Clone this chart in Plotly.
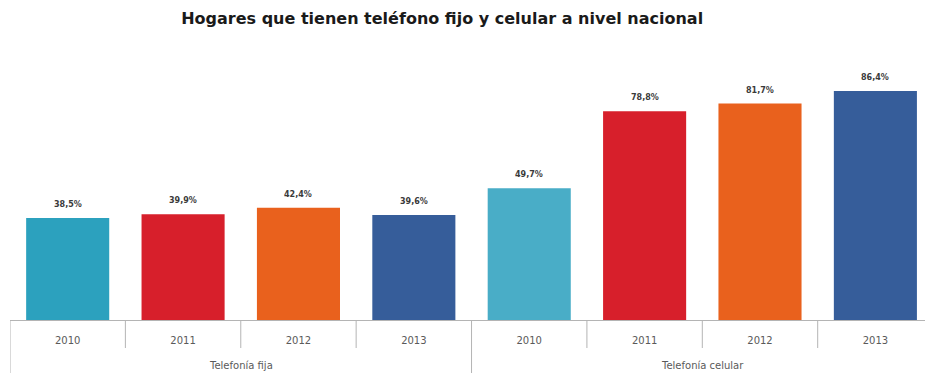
import plotly.graph_objects as go

# Households with fixed and mobile phone, national level (%)
group_names = ["Telefonía fija", "Telefonía celular"]
groups = ["Telefonía fija"] * 4 + ["Telefonía celular"] * 4
years = ["2010", "2011", "2012", "2013", "2010", "2011", "2012", "2013"]
values = [38.5, 39.9, 42.4, 39.6, 49.7, 78.8, 81.7, 86.4]
colors = ["#2ca1be", "#d71f2b", "#e9611d", "#365d9a",
          "#49adc7", "#d71f2b", "#e9611d", "#365d9a"]

positions = list(range(len(years)))
labels = [f"{v:.1f}%".replace(".", ",") for v in values]

fig = go.Figure(
    go.Bar(
        x=positions,
        y=values,
        marker=dict(color=colors, line=dict(width=0)),
        hovertext=[f"{g} {y}" for g, y in zip(groups, years)],
    )
)

# value labels above each bar
for xpos, v, lab in zip(positions, values, labels):
    fig.add_annotation(
        x=xpos, y=v, xref="x", yref="y",
        text=f"<b>{lab}</b>", showarrow=False,
        yanchor="bottom", yshift=7,
        font=dict(family="DejaVu Sans", size=8, color="#3a3a3a"),
    )

axis_grey = "#b4b4b4"
plot_h = 373 - 55 - 53  # height of plotting area in px

# short separators between years
for i in positions:
    if i % 4 == 0:
        continue
    fig.add_shape(
        type="line", xref="x", yref="paper",
        x0=i - 0.5, x1=i - 0.5, y0=0, y1=-28 / plot_h,
        line=dict(color=axis_grey, width=1),
    )

# long separators between the two groups
for i in [0, 4]:
    fig.add_shape(
        type="line", xref="x", yref="paper",
        x0=i - 0.5, x1=i - 0.5, y0=0, y1=-53 / plot_h,
        line=dict(color=axis_grey, width=1),
    )

# group labels under the year labels
for k, name in enumerate(group_names):
    fig.add_annotation(
        x=4 * k + 1.5, y=-45 / plot_h, xref="x", yref="paper",
        text=name, showarrow=False, yanchor="middle",
        font=dict(family="DejaVu Sans", size=10, color="#5a5a5a"),
    )

fig.update_layout(
    width=925,
    height=373,
    margin=dict(l=10, r=0, t=55, b=53),
    paper_bgcolor="white",
    plot_bgcolor="white",
    bargap=0.28,
    showlegend=False,
    title=dict(
        text="<b>Hogares que tienen teléfono fijo y celular a nivel nacional</b>",
        x=0.478,
        xanchor="center",
        y=0.95,
        yanchor="middle",
        font=dict(family="DejaVu Sans", size=16, color="#1a1a1a"),
    ),
)

fig.update_xaxes(
    range=[-0.5, 7.43],
    tickmode="array",
    tickvals=positions,
    ticktext=years,
    ticks="",
    ticklabelstandoff=11,
    showline=True,
    linecolor=axis_grey,
    linewidth=1,
    tickfont=dict(family="DejaVu Sans", size=10, color="#5a5a5a"),
    showgrid=False,
    zeroline=False,
)

fig.update_yaxes(
    range=[0, 100],
    visible=False,
    showgrid=False,
)

fig.write_html("out.html")
